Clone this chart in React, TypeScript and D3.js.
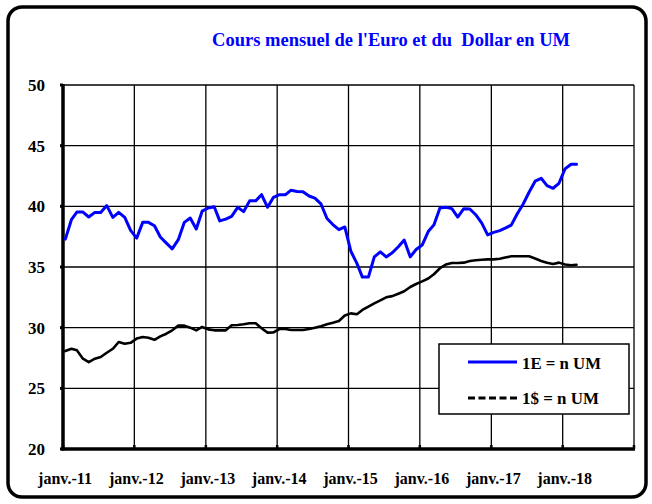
import React from "react";
import * as d3 from "d3";

const title = "Cours mensuel de l'Euro et du  Dollar en UM";
const startDate = new Date(2011, 0, 1);
const endDate = new Date(2019, 0, 1);
const xTickLabels = ["janv.-11", "janv.-12", "janv.-13", "janv.-14", "janv.-15", "janv.-16", "janv.-17", "janv.-18"];
const yTicks = [20, 25, 30, 35, 40, 45, 50];
const seriesNames = ["1E = n UM", "1$ = n UM"];

const euro = [
  37.3, 38.9, 39.53, 39.53, 39.12, 39.5, 39.5, 40.06, 39.09, 39.5,
  39.09, 38.02, 37.38, 38.68, 38.68, 38.4, 37.47, 36.97, 36.5, 37.25,
  38.68, 39.04, 38.13, 39.6, 39.86, 39.97, 38.8, 38.95, 39.17, 39.92,
  39.56, 40.45, 40.45, 40.96, 39.92, 40.74, 40.96, 40.96, 41.33, 41.22,
  41.2, 40.85, 40.68, 40.2, 39.0, 38.5, 38.08, 38.3, 36.3, 35.3,
  34.17, 34.17, 35.83, 36.25, 35.83, 36.17, 36.67, 37.22, 35.83, 36.44,
  36.81, 37.92, 38.47, 39.86, 39.92, 39.81, 39.11, 39.81, 39.78, 39.31,
  38.61, 37.65, 37.85, 38.0, 38.2, 38.45, 39.37, 40.19, 41.16, 42.07,
  42.31, 41.71, 41.49, 41.9, 43.09, 43.47, 43.47,
];

const dollar = [
  28.07, 28.26, 28.13, 27.44, 27.16, 27.44, 27.58, 27.93, 28.26, 28.82,
  28.68, 28.75, 29.1, 29.23, 29.17, 29.0, 29.28, 29.5, 29.78, 30.17,
  30.17, 30.0, 29.78, 30.06, 29.86, 29.78, 29.78, 29.78, 30.2, 30.22,
  30.28, 30.36, 30.36, 29.95, 29.59, 29.61, 29.89, 29.89, 29.81, 29.81,
  29.81, 29.89, 30.0, 30.12, 30.28, 30.4, 30.55, 31.0, 31.18, 31.1,
  31.46, 31.74, 32.0, 32.25, 32.5, 32.6, 32.8, 33.0, 33.35, 33.6,
  33.82, 34.05, 34.4, 34.9, 35.2, 35.33, 35.33, 35.36, 35.5, 35.55,
  35.6, 35.63, 35.63, 35.68, 35.78, 35.88, 35.88, 35.88, 35.88, 35.7,
  35.5, 35.35, 35.25, 35.36, 35.2, 35.14, 35.19,
];

const FONT = "'Liberation Serif', 'Times New Roman', serif";

export default function App() {
  const W = 652;
  const H = 504;
  const left = 63, right = 634, top = 85, bottom = 449;

  const x = d3.scaleTime().domain([startDate, endDate]).range([left, right]);
  const y = d3.scaleLinear().domain([20, 50]).range([bottom, top]);
  const dateOf = (i: number) => d3.timeDay.offset(d3.timeMonth.offset(startDate, i), 12);

  const line = d3
    .line<number>()
    .x((_, i) => x(dateOf(i)))
    .y((d) => y(d));

  const years = d3.timeYear.range(startDate, d3.timeDay.offset(endDate, 1));

  return (
    <svg
      width={W}
      height={H}
      style={{ position: "absolute", left: 0, top: 0, background: "#fff" }}
    >
      <rect x={0} y={0} width={W} height={H} fill="#fff" />
      <rect x={8} y={7} width={638} height={490} rx={14} ry={14} fill="#fff" stroke="#000" strokeWidth={3.5} />

      <text
        x={212}
        y={46}
        fill="#0000ff"
        fontFamily={FONT}
        fontWeight="bold"
        fontSize={19}
        textLength={358}
        lengthAdjust="spacingAndGlyphs"
        style={{ whiteSpace: "pre" }}
      >
        {title}
      </text>

      {/* horizontal gridlines */}
      {yTicks.map((t) => (
        <line key={"h" + t} x1={left} x2={right} y1={y(t)} y2={y(t)} stroke="#000" strokeWidth={1.3} />
      ))}
      {/* vertical gridlines */}
      {years.slice(1).map((d, i) => (
        <line key={"v" + i} x1={x(d)} x2={x(d)} y1={top} y2={bottom} stroke="#000" strokeWidth={1.3} />
      ))}

      {/* y tick labels */}
      {yTicks.map((t) => (
        <g key={"yl" + t}>
          <line x1={left - 3} x2={left} y1={y(t)} y2={y(t)} stroke="#000" strokeWidth={3} />
          <text
            x={45}
            y={y(t) + 6}
            textAnchor="end"
            fontFamily={FONT}
            fontWeight="bold"
            fontSize={17}
            fill="#000"
          >
            {t}
          </text>
        </g>
      ))}

      {/* x tick labels */}
      {years.map((d, i) => (
        <g key={"xl" + i}>
          <line x1={x(d)} x2={x(d)} y1={bottom} y2={bottom - 4} stroke="#000" strokeWidth={2.5} />
          {i < xTickLabels.length && (
            <text
              x={x(d) + 2}
              y={484}
              textAnchor="middle"
              fontFamily={FONT}
              fontWeight="bold"
              fontSize={16}
              fill="#000"
            >
              {xTickLabels[i]}
            </text>
          )}
        </g>
      ))}

      {/* axes */}
      <line x1={left} x2={left} y1={top - 1} y2={bottom + 1.5} stroke="#000" strokeWidth={3.5} />
      <line x1={left - 1.5} x2={right + 1} y1={bottom} y2={bottom} stroke="#000" strokeWidth={3.5} />

      {/* series */}
      <path d={line(dollar) || ""} fill="none" stroke="#000" strokeWidth={2.6} strokeLinejoin="round" strokeLinecap="round" />
      <path d={line(euro) || ""} fill="none" stroke="#0000ff" strokeWidth={3} strokeLinejoin="round" strokeLinecap="round" />

      {/* legend */}
      <rect x={439} y={344} width={190} height={70} fill="#fff" stroke="#000" strokeWidth={1.5} />
      <line x1={468} x2={517} y1={362} y2={362} stroke="#0000ff" strokeWidth={3} />
      <line x1={468} x2={517} y1={398} y2={398} stroke="#000" strokeWidth={3} strokeDasharray="7,3.5" />
      <text x={522} y={369} fontFamily={FONT} fontWeight="bold" fontSize={17} textLength={79} lengthAdjust="spacingAndGlyphs" fill="#000">
        {seriesNames[0]}
      </text>
      <text x={522} y={404} fontFamily={FONT} fontWeight="bold" fontSize={17} textLength={77} lengthAdjust="spacingAndGlyphs" fill="#000">
        {seriesNames[1]}
      </text>
    </svg>
  );
}
